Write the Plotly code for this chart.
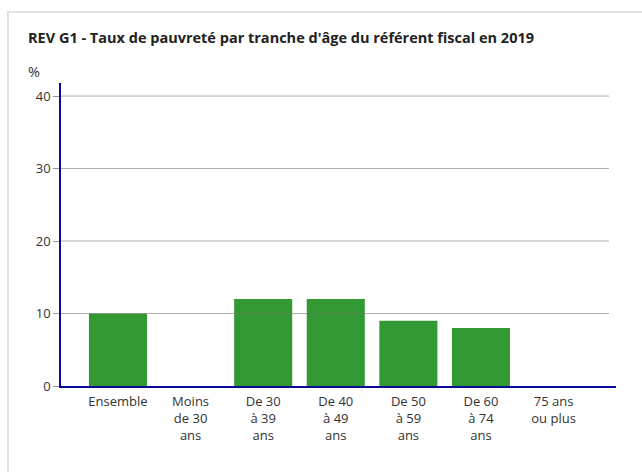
import plotly.graph_objects as go

categories = ["Ensemble", "Moins<br>de 30<br>ans", "De 30<br>à 39<br>ans", "De 40<br>à 49<br>ans",
              "De 50<br>à 59<br>ans", "De 60<br>à 74<br>ans", "75 ans<br>ou plus"]
values = [10, None, 12, 12, 9, 8, None]
y_ticks = [0, 10, 20, 30, 40]

W, H = 642, 472
L, R, T, B = 61, 26, 83, 86
pw = W - L - R
ph = H - T - B

fig = go.Figure(go.Bar(
    x=list(range(len(categories))), y=values,
    marker=dict(color="#339933", line=dict(width=0)),
    width=0.8, hoverinfo="skip",
))

shapes = []
for v in y_ticks[1:]:
    shapes.append(dict(type="line", xref="paper", yref="y", x0=0, x1=(609 - L) / pw, y0=v, y1=v,
                       line=dict(color="rgba(110,110,110,0.55)", width=1), layer="above"))
# card border
shapes.append(dict(type="rect", xref="paper", yref="paper",
                   x0=(8 - L) / pw, x1=(W + 20 - L) / pw,
                   y0=-(H + 20 - (H - B)) / ph, y1=(H - B - 12) / ph,
                   line=dict(color="#e2e2e2", width=2), fillcolor="rgba(0,0,0,0)", layer="below"))

fig.update_layout(
    width=W, height=H,
    margin=dict(l=L, r=R, t=T, b=B, pad=0),
    paper_bgcolor="white", plot_bgcolor="white",
    showlegend=False,
    font=dict(family="Open Sans", size=13, color="#333333"),
    title=dict(text="REV G1 - Taux de pauvreté par tranche d'âge du référent fiscal en 2019",
               x=28 / W, xanchor="left", y=1 - 38 / H, yanchor="middle",
               font=dict(family="Open Sans", size=14.5, color="#222222", weight=700)),
    shapes=shapes,
    annotations=[dict(text="%", xref="paper", yref="paper", x=(26 - L) / pw, y=(H - B - 72) / ph,
                      xanchor="left", yanchor="middle", showarrow=False,
                      font=dict(size=14.5, color="#333333"))],
    xaxis=dict(
        range=[-0.785, 6.86],
        tickmode="array", tickvals=list(range(len(categories))), ticktext=categories,
        showgrid=False, zeroline=False,
        showline=True, linecolor="#0a0a9a", linewidth=1.5,
        ticks="", ticklabelstandoff=3,
        tickfont=dict(size=13, color="#333333"),
    ),
    yaxis=dict(
        range=[0, 41.8],
        tickmode="array", tickvals=y_ticks,
        showgrid=False, zeroline=False,
        showline=True, linecolor="#0a0a9a", linewidth=1.5,
        ticks="outside", ticklen=6, tickcolor="#999999",
        tickfont=dict(size=13, color="#333333"),
    ),
)

fig.write_html("out.html", config={"displayModeBar": False},
               post_script="document.body.style.margin='0';document.body.style.overflow='hidden';")
